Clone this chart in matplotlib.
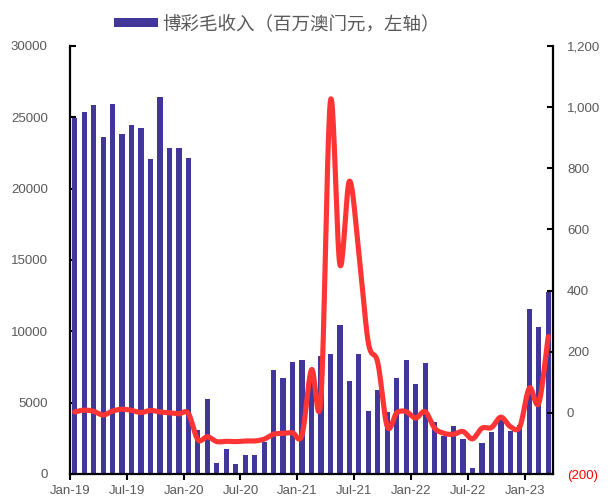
import numpy as np
import matplotlib
matplotlib.use("Agg")
import matplotlib.pyplot as plt

plt.rcParams["font.family"] = ["Liberation Sans", "Noto Sans CJK SC", "DejaVu Sans"]

# Monthly gross gaming revenue (MOP million), Jan-2019 .. Mar-2023
ggr = [
    24942, 25370, 25840, 23588, 25952, 23812, 24453, 24262, 22079, 26443, 22877, 22838,
    22126, 3104, 5257, 754, 1764, 716, 1344, 1330, 2211, 7270, 6748, 7818,
    8024, 7312, 8306, 8401, 10445, 6535, 8444, 4441, 5876, 4364, 6737, 7956,
    6343, 7750, 3668, 2677, 3341, 2477, 398, 2189, 2962, 3899, 2999, 3462,
    11580, 10324, 12738,
]

# Year-on-year change (%), right axis
yoy = [
    3, 9, 5, -7, 6, 12, 8, 1, 8, 3, 0, -3,
    -2, -88, -78, -94, -93, -94, -92, -92, -86, -70, -67, -65,
    -72, 141, 49, 1021, 485, 758, 525, 230, 164, -45, 0, 4,
    -17, 4, -50, -67, -70, -61, -85, -50, -48, -14, -45, -45,
    81, 32, 250,
]

tick_labels = ["Jan-19", "Jul-19", "Jan-20", "Jul-20", "Jan-21",
               "Jul-21", "Jan-22", "Jul-22", "Jan-23"]

left_ticks = [0, 5000, 10000, 15000, 20000, 25000, 30000]
right_ticks = [-200, 0, 200, 400, 600, 800, 1000, 1200]

legend_label = "博彩毛收入（百万澳门元，左轴）"

BAR_COLOR = "#41379A"
LINE_COLOR = "#FF3434"
TEXT_COLOR = "#595959"


def catmull_rom(x, y, n=20):
    """Smooth curve through all points (uniform Catmull-Rom)."""
    x = np.asarray(x, float)
    y = np.asarray(y, float)
    px = np.concatenate([[2 * x[0] - x[1]], x, [2 * x[-1] - x[-2]]])
    py = np.concatenate([[2 * y[0] - y[1]], y, [2 * y[-1] - y[-2]]])
    t = np.linspace(0, 1, n, endpoint=False)
    xs, ys = [], []
    for i in range(1, len(px) - 2):
        for P, out in ((px, xs), (py, ys)):
            p0, p1, p2, p3 = P[i - 1], P[i], P[i + 1], P[i + 2]
            out.extend(0.5 * ((2 * p1) + (-p0 + p2) * t
                              + (2 * p0 - 5 * p1 + 4 * p2 - p3) * t ** 2
                              + (-p0 + 3 * p1 - 3 * p2 + p3) * t ** 3))
    xs.append(x[-1])
    ys.append(y[-1])
    return np.array(xs), np.array(ys)


x = np.arange(len(ggr))

fig = plt.figure(figsize=(6.08, 5.0), dpi=100)
ax = fig.add_axes([70 / 608, 26 / 500, 483 / 608, 428 / 500])

bars = ax.bar(x, ggr, width=0.55, color=BAR_COLOR, label=legend_label, zorder=2)
ax.set_xlim(-0.5, len(ggr) - 0.5)
ax.set_ylim(0, 30000)

ax.set_xticks(np.arange(0, len(ggr), 6) - 0.5)
ax.set_xticklabels(tick_labels)
ax.set_yticks(left_ticks)
ax.set_yticklabels([str(v) for v in left_ticks])

for side in ("top", "right"):
    ax.spines[side].set_visible(False)
for side in ("left", "bottom"):
    ax.spines[side].set_linewidth(1.6)
    ax.spines[side].set_color("black")

ax.tick_params(axis="y", direction="in", length=4, width=1.5,
               labelsize=9.5, labelcolor=TEXT_COLOR, pad=16)
ax.tick_params(axis="x", direction="out", length=4, width=1.5,
               labelsize=9.5, labelcolor=TEXT_COLOR, pad=4)

ax2 = ax.twinx()
sx, sy = catmull_rom(x, yoy)
ax2.plot(sx, sy, color=LINE_COLOR, lw=3.7, solid_capstyle="round",
         solid_joinstyle="round", zorder=3)
ax2.set_ylim(-200, 1200)
ax2.set_yticks(right_ticks)
ax2.set_yticklabels([f"({abs(v):,})" if v < 0 else f"{v:,}" for v in right_ticks])
ax2.tick_params(axis="y", direction="in", length=4, width=1.5,
                labelsize=9.5, labelcolor=TEXT_COLOR, pad=10)
for t in ax2.yaxis.get_major_ticks():
    if t.get_loc() < 0:
        t.label2.set_color("#FF0000")
for side in ("top", "left", "bottom"):
    ax2.spines[side].set_visible(False)
ax2.spines["right"].set_linewidth(1.6)
ax2.spines["right"].set_color("black")

fig.legend(handles=[bars], labels=[legend_label], loc="center",
           bbox_to_anchor=(0.455, 0.951), frameon=False, fontsize=13.3,
           handlelength=2.4, handleheight=0.35, handletextpad=0.2,
           labelcolor=TEXT_COLOR)

fig.savefig("out.png", dpi=100)
